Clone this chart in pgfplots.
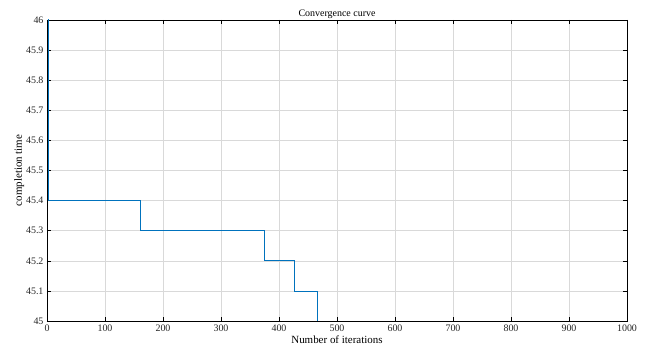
\documentclass[border=0pt]{standalone}
\usepackage{pgfplots}
\pgfplotsset{compat=1.18}
\usetikzlibrary{calc}
\usepackage{fontspec}
\setmainfont{Liberation Serif}
\definecolor{mblue}{rgb}{0,0.447,0.741}
\begin{document}
\begin{tikzpicture}[x=1bp,y=1bp]
\begin{axis}[
  scale only axis,
  width=580bp, height=301bp,
  xmin=0, xmax=1000, ymin=45, ymax=46,
  xtick={0,100,...,1000},
  ytick={45,45.1,...,46.01},
  tick align=inside,
  tick pos=both,
  major tick length=4bp,
  grid=major,
  major grid style={gray!30, line width=0.5pt},
  axis line style={black, line width=0.6pt},
  every tick/.style={black, line width=0.6pt},
  tick label style={font=\fontsize{10}{11}\selectfont, text=black!85},
  /pgf/number format/assume math mode=true,
  yticklabel style={/pgf/number format/fixed, /pgf/number format/precision=1},
  xticklabel style={/pgf/number format/fixed, /pgf/number format/1000 sep={}},
  title={Convergence curve},
  title style={font=\fontsize{10}{11}\selectfont, at={(axis description cs:0.5,1.012)}, anchor=base, yshift=-6pt},
  xlabel={Number of iterations},
  ylabel={completion time},
  xlabel style={font=\fontsize{11}{12}\selectfont, at={(axis description cs:0.5,-0.076)}, anchor=base},
  ylabel style={font=\fontsize{11}{12}\selectfont, at={(axis description cs:-0.048,0.5)}, anchor=center},
  clip=true,
]
\addplot[mblue, line width=0.8pt, const plot] coordinates {
  (1,46.2) (2,45.4) (161,45.3) (375,45.2) (427,45.1) (466,45.0) (910,45.0)
};
\coordinate (bl) at (rel axis cs:0,0);
\coordinate (tr) at (rel axis cs:1,1);
\end{axis}
\path ($(bl)+(-47bp,-31bp)$) rectangle ($(tr)+(27bp,20bp)$);
\end{tikzpicture}
\end{document}
